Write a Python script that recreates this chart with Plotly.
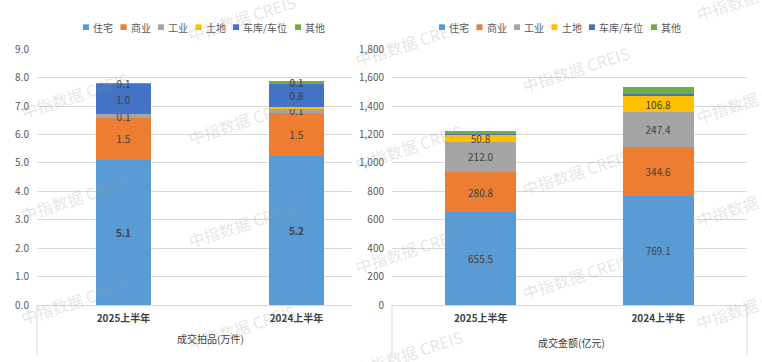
import plotly.graph_objects as go

# ---------------- data ----------------
categories = ["2025上半年", "2024上半年"]
series_names = ["住宅", "商业", "工业", "土地", "车库/车位", "其他"]

count_residential = [5.12, 5.24]
count_commercial = [1.46, 1.52]
count_industrial = [0.14, 0.14]
count_land = [0.01, 0.05]
count_garage = [1.03, 0.84]
count_other = [0.06, 0.08]

amount_residential = [655.5, 769.1]
amount_commercial = [280.8, 344.6]
amount_industrial = [212.0, 247.4]
amount_land = [50.8, 106.8]
amount_garage = [6.0, 20.0]
amount_other = [22.0, 44.0]

left_title = "成交拍品(万件)"
right_title = "成交金额(亿元)"
watermark_text = "中指数据 CREIS"

# ---------------- style ----------------
colors = ["#5B9BD5", "#ED7D31", "#A5A5A5", "#FFC000", "#4472C4", "#70AD47"]
FONT = "Noto Sans CJK SC"
W, H = 762, 362


def px(x):
    return x / W


def py(y):
    return 1 - y / H


count_series = [count_residential, count_commercial, count_industrial,
                count_land, count_garage, count_other]
amount_series = [amount_residential, amount_commercial, amount_industrial,
                 amount_land, amount_garage, amount_other]
left_show = [True, True, True, False, True, True]
right_show = [True, True, True, True, False, False]

fig = go.Figure()

for i, name in enumerate(series_names):
    fig.add_trace(go.Bar(
        x=categories, y=count_series[i], name=name,
        marker=dict(color=colors[i], line=dict(width=0)),
        width=0.318, xaxis="x", yaxis="y",
        texttemplate="%{y:.1f}" if left_show[i] else None,
        textposition="inside" if left_show[i] else "none",
        insidetextanchor="middle", textangle=0, constraintext="none",
        textfont=dict(family=FONT, size=10, color="#404040",
                      weight="bold" if i == 0 else "normal"),
        showlegend=False,
    ))

for i, name in enumerate(series_names):
    fig.add_trace(go.Bar(
        x=categories, y=amount_series[i], name=name,
        marker=dict(color=colors[i], line=dict(width=0)),
        width=0.4, xaxis="x2", yaxis="y2",
        texttemplate="%{y:.1f}" if right_show[i] else None,
        textposition="inside" if right_show[i] else "none",
        insidetextanchor="middle", textangle=0, constraintext="none",
        textfont=dict(family=FONT, size=10, color="#404040"),
        showlegend=False,
    ))

axis_font = dict(family=FONT, size=10, color="#595959")
ydom = [py(310), py(42)]

fig.update_layout(
    width=W, height=H, barmode="stack",
    margin=dict(l=0, r=0, t=0, b=0),
    paper_bgcolor="white", plot_bgcolor="white",
    font=dict(family=FONT, color="#595959"),
    showlegend=False,
    xaxis=dict(domain=[px(37), px(352)], anchor="y", type="category",
               range=[-0.5, -0.5 + 315 / 173], showline=True,
               linecolor="#D9D9D9", linewidth=1, showgrid=False, ticks="",
               tickfont=dict(family=FONT, size=10, color="#404040", weight="bold"),
               ticklabelstandoff=4, fixedrange=True),
    yaxis=dict(domain=ydom, anchor="x", range=[0, 9], dtick=1,
               tickformat=".1f", showgrid=True, gridcolor="#D9D9D9",
               zeroline=False, showline=False, ticks="",
               tickfont=axis_font, ticklabelstandoff=7, fixedrange=True),
    xaxis2=dict(domain=[px(392), px(747)], anchor="y2", type="category",
                range=[-0.5, 1.5], showline=True, linecolor="#D9D9D9",
                linewidth=1, showgrid=False, ticks="",
                tickfont=dict(family=FONT, size=10, color="#404040", weight="bold"),
                ticklabelstandoff=4, fixedrange=True),
    yaxis2=dict(domain=ydom, anchor="x2", range=[0, 1800], dtick=200,
                tickformat=",", showgrid=True, gridcolor="#D9D9D9",
                zeroline=False, showline=False, ticks="",
                tickfont=axis_font, ticklabelstandoff=7, fixedrange=True),
)

shapes = []
annotations = []

# category-axis divider lines
for xline in [37, 392, 747]:
    shapes.append(dict(type="line", xref="paper", yref="paper",
                       x0=px(xline), x1=px(xline), y0=py(310), y1=py(362),
                       line=dict(color="#D9D9D9", width=1)))

# axis titles
annotations.append(dict(text=left_title, x=px(210), y=py(345), xref="paper",
                        yref="paper", showarrow=False, xanchor="center",
                        yanchor="middle",
                        font=dict(family=FONT, size=10, color="#404040")))
annotations.append(dict(text=right_title, x=px(571), y=py(349), xref="paper",
                        yref="paper", showarrow=False, xanchor="center",
                        yanchor="middle",
                        font=dict(family=FONT, size=10, color="#404040")))


# custom legends (one per chart)
def text_w(s):
    return sum(10 if ord(c) > 255 else 4.5 for c in s)


for start in [83, 439]:
    xcur = start
    for i, name in enumerate(series_names):
        shapes.append(dict(type="rect", xref="paper", yref="paper",
                           x0=px(xcur), x1=px(xcur + 6), y0=py(22), y1=py(16),
                           fillcolor=colors[i], line=dict(width=0)))
        annotations.append(dict(text=name, x=px(xcur + 8), y=py(19),
                                xref="paper", yref="paper", showarrow=False,
                                xanchor="left", yanchor="middle",
                                font=dict(family=FONT, size=10, color="#595959")))
        xcur += 8 + text_w(name) + 9.5

# watermark tiling
wm_cols = [(75, [90, 198, 306]), (242, [9, 117, 225, 333]),
           (409, [36, 144, 252, 360]), (576, [63, 171, 279]),
           (750, [-13, 95, 203, 311])]
for xc, ys in wm_cols:
    for yc in ys:
        annotations.append(dict(text=watermark_text, x=px(xc), y=py(yc),
                                xref="paper", yref="paper", showarrow=False,
                                xanchor="center", yanchor="middle",
                                textangle=-18,
                                font=dict(family=FONT, size=16,
                                          color="rgba(150,150,150,0.25)")))

fig.update_layout(shapes=shapes, annotations=annotations)

fig.write_html(
    "out.html",
    config={"displayModeBar": False, "staticPlot": True},
    post_script="document.body.style.margin='0';document.body.style.padding='0';"
                "document.body.style.overflow='hidden';",
)
